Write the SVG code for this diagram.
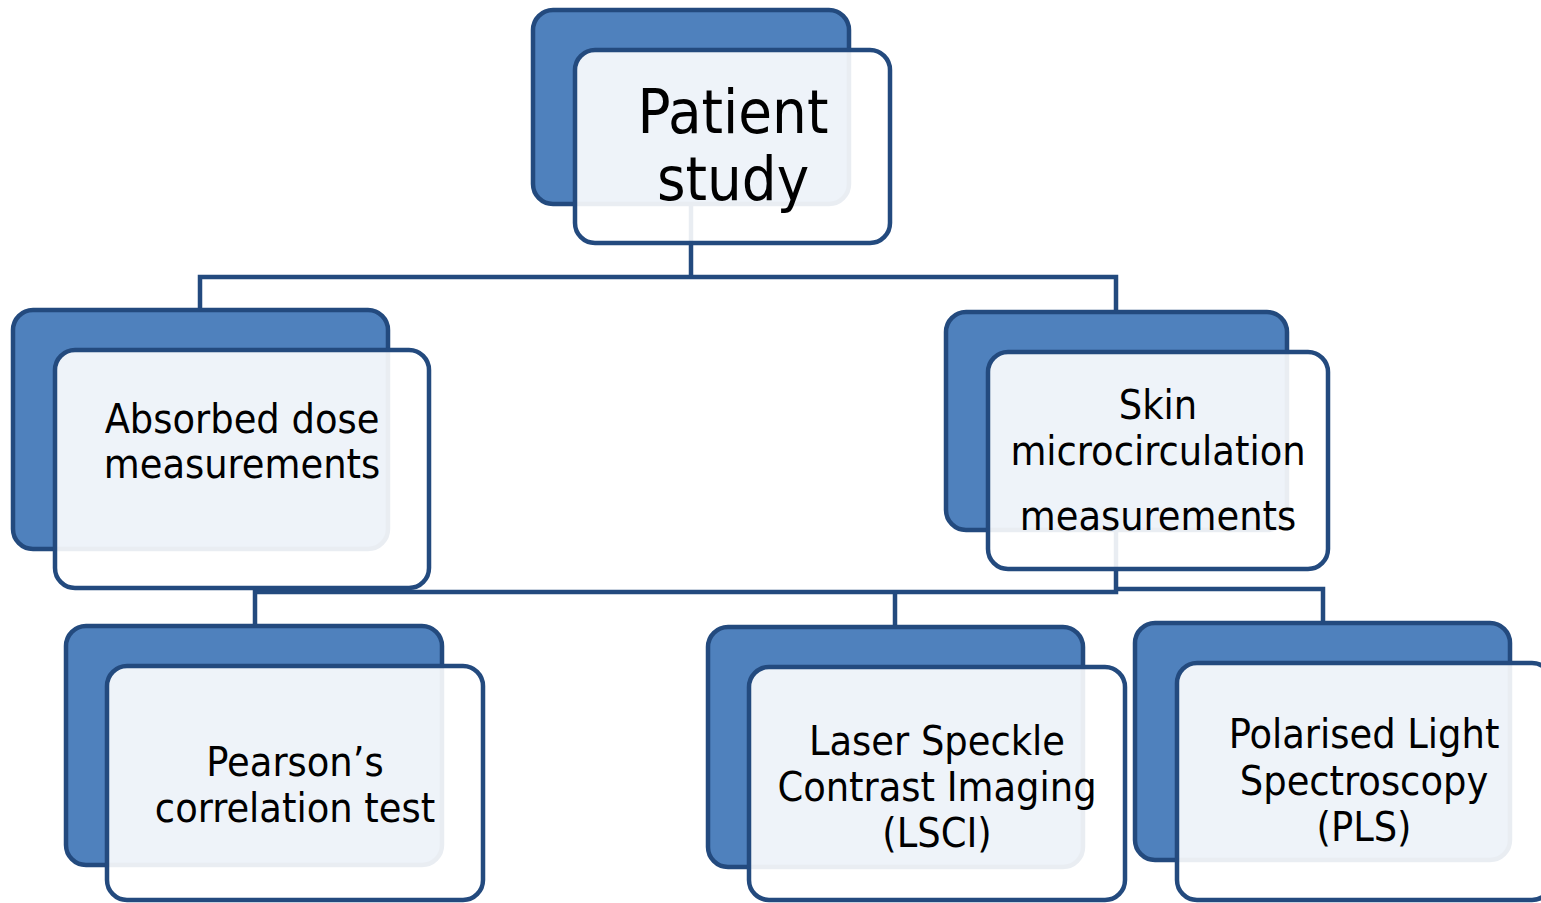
<svg xmlns="http://www.w3.org/2000/svg" width="1541" height="903" viewBox="0 0 1541 903">
  <style>
    .back { fill: #4F81BD; stroke: #234A7E; stroke-width: 4.5; }
    .front { fill: #FFFFFF; fill-opacity: 0.9; stroke: #234A7E; stroke-width: 4.5; }
    .link { fill: none; stroke: #234A7E; stroke-width: 4.5; stroke-linejoin: miter; }
    text { font-family: "DejaVu Sans Condensed", "DejaVu Sans", sans-serif; fill: #000000; text-anchor: middle; }
    .lbl { font-size: 41px; }
    .big { font-size: 61px; }
  </style>
  <rect width="1541" height="903" fill="#FFFFFF"/>

  <!-- elbow connectors; the parts under the translucent front cards show through faintly -->
  <g id="connectors">
    <path class="link" d="M200,312 V277 H1116 V313"/>
    <path class="link" d="M691,205 V277"/>
    <path class="link" d="M255,627 V592 H1116 V530"/>
    <path class="link" d="M895,628 V592"/>
    <path class="link" d="M1116,589 H1323 V624"/>
  </g>

  <g id="patient-study">
    <rect class="back" x="533" y="10" width="316" height="194" rx="20"/>
    <rect class="front" x="575" y="50" width="315" height="193" rx="20"/>
    <text class="big" x="733" y="133">Patient</text>
    <text class="big" x="733" y="200">study</text>
  </g>

  <g id="absorbed-dose">
    <rect class="back" x="13" y="310" width="375" height="239" rx="20"/>
    <rect class="front" x="55" y="350" width="374" height="238" rx="20"/>
    <text class="lbl" x="242" y="433">Absorbed dose</text>
    <text class="lbl" x="242" y="478">measurements</text>
  </g>

  <g id="skin-microcirculation">
    <rect class="back" x="946" y="312" width="341" height="218" rx="20"/>
    <rect class="front" x="988" y="352" width="340" height="217" rx="20"/>
    <text class="lbl" x="1158" y="419">Skin</text>
    <text class="lbl" x="1158" y="465">microcirculation</text>
    <text class="lbl" x="1158" y="530">measurements</text>
  </g>

  <g id="pearson">
    <rect class="back" x="66" y="626" width="376" height="239" rx="20"/>
    <rect class="front" x="107" y="666" width="376" height="234" rx="20"/>
    <text class="lbl" x="295" y="776">Pearson’s</text>
    <text class="lbl" x="295" y="822">correlation test</text>
  </g>

  <g id="lsci">
    <rect class="back" x="708" y="627" width="375" height="240" rx="20"/>
    <rect class="front" x="749" y="667" width="376" height="233" rx="20"/>
    <text class="lbl" x="937" y="755">Laser Speckle</text>
    <text class="lbl" x="937" y="801">Contrast Imaging</text>
    <text class="lbl" x="937" y="847">(LSCI)</text>
  </g>

  <g id="pls">
    <rect class="back" x="1135" y="623" width="375" height="237" rx="20"/>
    <rect class="front" x="1177" y="663" width="375" height="237" rx="20"/>
    <text class="lbl" x="1364" y="748">Polarised Light</text>
    <text class="lbl" x="1364" y="795">Spectroscopy</text>
    <text class="lbl" x="1364" y="841">(PLS)</text>
  </g>
</svg>
